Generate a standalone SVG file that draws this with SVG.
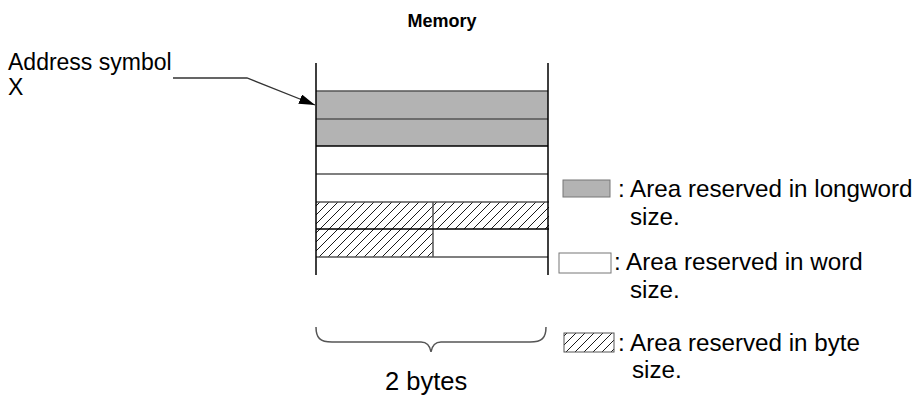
<svg xmlns="http://www.w3.org/2000/svg" width="918" height="396" viewBox="0 0 918 396">
<defs>
<pattern id="hatch" patternUnits="userSpaceOnUse" width="9" height="9">
<path d="M-1,10 L10,-1 M-2,2 L2,-2 M7,11 L11,7" stroke="#000" stroke-width="0.9"/>
</pattern>
<marker id="arr" markerWidth="16" markerHeight="10" refX="16" refY="5" orient="auto" markerUnits="userSpaceOnUse">
<path d="M0,0 L16,5 L0,10 Z" fill="#000"/>
</marker>
<style>
text{font-family:"Liberation Sans",Arial,sans-serif;font-size:24.2px;fill:#000}
.a{font-size:23px}
.c{font-size:25.5px}
.b{font-weight:bold;font-size:18px}
.ln{stroke:#555;stroke-width:1.5;fill:none}
.blk{stroke:#000;stroke-width:1.5;fill:none}
.grey{fill:#b3b3b3}
</style>
</defs>
<text class="b" x="442" y="27" text-anchor="middle">Memory</text>
<g id="memory">
<rect class="grey" x="316" y="91" width="232" height="55"/>
<rect x="316" y="202" width="233" height="27" fill="url(#hatch)"/>
<rect x="316" y="229" width="117" height="28" fill="url(#hatch)"/>
<path class="ln" d="M316,91 H548 M316,119 H548 M316,174 H548 M316,202 H549 M316,257 H548 M433,202 V257"/>
<path class="blk" d="M316,146 H548 M316,229 H549"/>
<path class="blk" d="M316,63 V275 M548,63 V275"/>
</g>
<g id="address">
<text class="a" x="8" y="70">Address symbol</text>
<text class="a" x="8" y="95">X</text>
</g>
<g id="connectors">
<path d="M173,78 H247 L315,105" stroke="#333" stroke-width="1.3" fill="none" marker-end="url(#arr)"/>
</g>
<g id="brace">
<path class="ln" d="M316,327 C316,338 320,342 332,342 H421 C427,342 430,346 431,352 C432,346 435,342 441,342 H530 C542,342 546,338 546,327"/>
<text class="c" x="385" y="390">2 bytes</text>
</g>
<g id="legend-longword">
<rect class="grey" x="563" y="180" width="47" height="17" stroke="#777" stroke-width="1"/>
<text x="618" y="197">: Area reserved in longword</text>
<text x="630" y="225">size.</text>
</g>
<g id="legend-word">
<rect x="559" y="253" width="52" height="20" fill="#fff" stroke="#777" stroke-width="1"/>
<text x="614" y="270">: Area reserved in word</text>
<text x="630" y="298">size.</text>
</g>
<g id="legend-byte">
<rect x="564" y="333" width="50" height="19" fill="url(#hatch)" stroke="#555" stroke-width="1"/>
<text x="618" y="351">: Area reserved in byte</text>
<text x="632" y="378">size.</text>
</g>
</svg>
